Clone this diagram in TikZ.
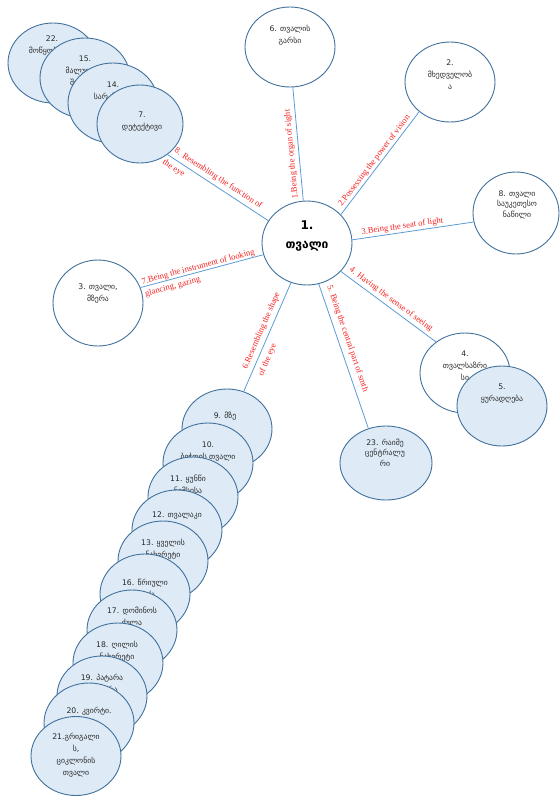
\documentclass[tikz,border=0pt]{standalone}
\usepackage{fontspec}
\newfontfamily\geo{DejaVu Sans}
\newfontfamily\lblfont{Liberation Serif}
\usetikzlibrary{shapes.geometric}
\definecolor{cborder}{RGB}{65,113,156}
\definecolor{cfill}{RGB}{222,235,247}
\definecolor{cline}{RGB}{91,155,213}
\definecolor{cred}{RGB}{245,30,30}
\definecolor{ctext}{RGB}{40,40,40}
\tikzset{
  bub/.style={ellipse, draw=cborder, line width=0.9pt, minimum width=90pt, minimum height=80pt, inner sep=0pt},
  lt/.style={fill=cfill},
  wt/.style={fill=white},
  gtxt/.style={font=\geo\fontsize{7.7}{12}\selectfont, align=center, text=ctext, inner sep=0pt},
  conn/.style={draw=cline, line width=0.8pt},
  lbl/.style={font=\lblfont\fontsize{8.6}{10}\selectfont, text=cred, sloped, inner xsep=0pt, inner ysep=2pt},
}
\begin{document}
\begin{tikzpicture}[x=1pt,y=-1pt]
\useasboundingbox (0,0) rectangle (560,796);
% left stack
\node[bub,lt] (n22) at (53,63) {};
\node[gtxt] (t22) at (52,51) {22.\\მოწყობილო\\ბა};
\node[bub,lt] (n15) at (85,78) {};
\node[gtxt] (t15) at (85,71.5) {15.\\მალულად\\შეხედვა};
\node[bub,lt] (n14) at (113,103) {};
\node[gtxt] (t14) at (113,92) {14.\\სარკმელი};
\node[bub,lt,minimum width=86pt,minimum height=78pt] (n7) at (140,124) {};
\node[gtxt] (t7) at (142,122) {7.\\დეტექტივი};
% top and right
\node[bub,wt] (n6) at (290,47) {};
\node[gtxt] (t6) at (290,35.5) {6. თვალის\\გარსი};
\node[bub,wt] (n2) at (450,82) {};
\node[gtxt] (t2) at (450,74.5) {2.\\მხედველობ\\ა};
\node[bub,wt,minimum width=86pt,minimum height=82pt] (n8) at (516,213) {};
\node[gtxt,font=\geo\fontsize{7.7}{10.5}\selectfont] (t8) at (517,205) {8. თვალი\\საუკეთესო\\ნაწილი};
\node[bub,wt,minimum height=84pt] (c) at (307,243) {};
\node[gtxt,font=\geo\bfseries\fontsize{12}{19}\selectfont,text=black] (tc) at (307,236.5) {1.\\თვალი};
\node[bub,wt,minimum height=86pt] (n3) at (98,303) {};
\node[gtxt] (t3) at (98,293.5) {3. თვალი,\\მზერა};
\node[bub,wt] (n4) at (465,373) {};
\node[gtxt] (t4) at (465,366) {4.\\თვალსაზრი\\სი};
\node[bub,lt] (n5) at (502,406) {};
\node[gtxt] (t5) at (502,394) {5.\\ყურადღება};
\node[bub,lt,minimum width=92pt,minimum height=74pt] (n23) at (386,463) {};
\node[gtxt,font=\geo\fontsize{7.7}{10.5}\selectfont] (t23) at (385,452.5) {23. რაიმე\\ცენტრალუ\\რი};
% bottom stack
\node[bub,lt] (n9) at (227,429) {};
\node[gtxt] (t9) at (225,416) {9. მზე};
\node[bub,lt] (n10) at (208,463) {};
\node[gtxt] (t10) at (208,451.5) {10.\\ბეჭდის თვალი};
\node[bub,lt] (n11) at (193,497) {};
\node[gtxt] (t11) at (188,485.5) {11. ყუნწი\\ნემსისა};
\node[bub,lt] (n12) at (177,530) {};
\node[gtxt] (t12) at (177,516) {12. თვალაკი};
\node[bub,lt] (n13) at (163,561) {};
\node[gtxt] (t13) at (163,549) {13. ყველის\\ნახვრეტი};
\node[bub,lt] (n16) at (145,594) {};
\node[gtxt] (t16) at (145,589) {16. წრიული\\ლაქა};
\node[bub,lt] (n17) at (132,630) {};
\node[gtxt] (t17) at (132,617.5) {17. დომინოს\\ქულა};
\node[bub,lt] (n18) at (118,663) {};
\node[gtxt] (t18) at (117,651) {18. ღილის\\ნახვრეტი};
\node[bub,lt] (n19) at (102,696) {};
\node[gtxt] (t19) at (102,684) {19. პატარა\\ფანჯარა};
\node[bub,lt] (n20) at (89,723) {};
\node[gtxt] (t20) at (89,711) {20. კვირტი.};
\node[bub,lt,minimum height=79pt] (n21) at (76,756) {};
\node[gtxt] (t21) at (76,755) {21.გრიგალი\\ს,\\ციკლონის\\თვალი};
% connectors
\draw[conn] (c.95) -- node[lbl,allow upside down,pos=0.02,anchor=south west,inner ysep=3pt]{1.Being the organ of sight} (n6.274);
\draw[conn] (c.40) -- node[lbl,pos=0.05,anchor=south west,inner ysep=1.5pt]{2.Possessing the power of vision} (n2.224);
\draw[conn] (c.4) -- node[lbl,pos=0.08,anchor=south west,inner ysep=1.5pt]{3.Being the seat of light} (n8.192);
\draw[conn] (c.320) -- node[lbl,pos=0.05,anchor=south west,inner ysep=3pt]{4. Having the sense of seeing} (n4.133);
\draw[conn] (c.286) -- node[lbl,pos=0.03,anchor=south west,inner ysep=5pt]{5. Being the central part of smth} (n23.117);
\draw[conn] (n9.66) -- node[lbl,pos=0.18,anchor=south west,inner ysep=3.5pt]{6.Resembling the shape}
  node[lbl,pos=0.18,anchor=north west,inner ysep=5pt]{of the eye} (c.248);
\draw[conn] (n3.20) -- node[lbl,pos=0.02,anchor=south west,inner ysep=0.5pt]{7.Being the instrument of looking}
  node[lbl,pos=0.02,anchor=north west,inner ysep=3.5pt]{glancing, gazing} (c.195);
\draw[conn] (n7.312) -- node[lbl,pos=0.03,anchor=south west,inner ysep=3.5pt]{8. Resembling the function of}
  node[lbl,pos=0.0,anchor=north west,inner ysep=4pt]{the eye} (c.150);
\end{tikzpicture}
\end{document}
